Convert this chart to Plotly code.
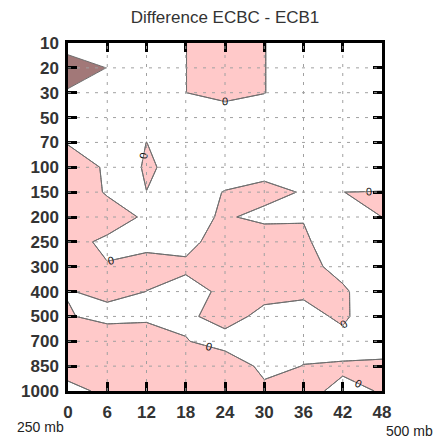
import plotly.graph_objects as go

# Forecast hour (x) and pressure level (y, in mb)
hours = [0, 6, 12, 18, 24, 30, 36, 42, 48]
levels = ["10", "20", "30", "50", "70", "100", "150", "200", "250",
          "300", "400", "500", "700", "850", "1000"]

# Difference ECBC - ECB1, one row per pressure level, one column per hour
diff = [
    [-0.1, -0.5, -0.5, -0.01, 0.5, 0.02, -0.5, -0.5, -0.5],
    [-2.0, -0.97, -0.5, -0.01, 0.5, 0.02, -0.5, -0.5, -0.5],
    [-0.8, -0.5, -0.5, -0.01, 0.5, 0.02, -0.5, -0.5, -0.5],
    [-0.5, -0.5, -0.5, -0.5, -0.9, -0.5, -0.5, -0.5, -0.5],
    [-0.1, -0.5, 0.005, -0.5, -0.5, -0.5, -0.5, -0.5, -0.5],
    [0.9, -0.212, 0.0325, -0.089, -0.5, -0.5, -0.5, -0.5, -0.5],
    [0.734, -0.102, -0.002, -0.44, 0.04, 0.393, -0.088, -0.001, 0.02],
    [0.6, 0.5, -0.152, -0.376, 0.137, -0.32, -0.067, -0.5, 0.002],
    [0.324, -0.194, -0.2, -0.186, 0.3, 0.82, 0.2, -0.8, -0.5],
    [2.0, 0.055, 0.265, 0.124, 0.6, 0.8, 0.4, -0.4, -0.5],
    [-0.1, 0.45, -0.01, -0.2635, 0.142, 0.242, 0.137, 0.188, -0.9],
    [0.15, -0.6, -0.2, -0.15, 0.3, -0.215, -0.279, 0.15, -0.68],
    [1.0, 1.4, 0.633, 0.037, -0.3, -0.4, -0.163, -0.255, -0.514],
    [0.45, 1.2, 1.0, 0.8, 0.47, -0.171, 0.0123, 0.064, 0.2],
    [-0.3, 0.214, 0.8, 0.8, 0.6, 0.146, 0.11, -0.096, 0.024],
]

level_idx = list(range(len(levels)))

DARK = "#a27878"
PINK = "#ffc9c9"
WHITE = "#ffffff"
LINE = "#6e6e6e"

fig = go.Figure()

# shaded bands: below -1, -1..0, above 0
fig.add_trace(go.Contour(
    x=hours, y=level_idx, z=diff,
    contours=dict(start=-1, end=0, size=1, coloring="fill", showlabels=False),
    colorscale=[[0, DARK], [0.3, DARK], [0.3, WHITE], [0.8, WHITE],
                [0.8, PINK], [1, PINK]],
    line=dict(color=LINE, width=1, smoothing=0),
    showscale=False, hoverinfo="skip",
))

# zero line with labels
fig.add_trace(go.Contour(
    x=hours, y=level_idx, z=diff,
    contours=dict(start=0, end=0, size=1, coloring="none", showlabels=True,
                  labelfont=dict(family="Liberation Sans", size=11, color="#111")),
    line=dict(color=LINE, width=1, smoothing=0),
    showscale=False, hoverinfo="skip",
))

# dotted grid drawn above the shading
grid = dict(color="#a0a0a0", width=1, dash="3px,6px")
shapes = []
for h in hours[1:-1]:
    shapes.append(dict(type="line", xref="x", yref="paper", x0=h, x1=h, y0=0, y1=1,
                       line=grid, layer="above"))
for k in level_idx[1:-1]:
    shapes.append(dict(type="line", xref="paper", yref="y", x0=0, x1=1, y0=k, y1=k,
                       line=grid, layer="above"))

tickfont = dict(family="Liberation Sans, Arial, sans-serif", size=17, color="#333",
                weight="bold")
axis_common = dict(showline=True, linecolor="black", linewidth=2.5, mirror="allticks",
                   ticks="inside", ticklen=9, tickwidth=2.5, tickcolor="black",
                   showgrid=False, zeroline=False, tickfont=tickfont, layer="above traces")

fig.update_layout(
    width=439, height=438,
    margin=dict(l=68, r=57, t=43, b=47),
    paper_bgcolor="white", plot_bgcolor="white",
    showlegend=False,
    title=dict(text="Difference ECBC - ECB1", x=0.5, xref="paper",
               y=1 - 17 / 438, yref="container", yanchor="middle",
               font=dict(family="Liberation Sans Narrow, Arial Narrow, sans-serif",
                         size=17, color="#333")),
    xaxis=dict(range=[hours[0], hours[-1]], tickvals=hours, ticktext=[str(h) for h in hours],
               ticklabelstandoff=4, **axis_common),
    yaxis=dict(range=[level_idx[-1], level_idx[0]], tickvals=level_idx, ticktext=levels,
               ticklabelstandoff=3, **axis_common),
    shapes=shapes,
    annotations=[
        dict(text="250 mb", xref="paper", yref="paper", x=-0.089, y=-0.103,
             showarrow=False, xanchor="center", yanchor="middle",
             font=dict(family="Liberation Sans Narrow, Arial Narrow, sans-serif",
                       size=14, color="#222")),
        dict(text="500 mb", xref="paper", yref="paper", x=1.089, y=-0.115,
             showarrow=False, xanchor="center", yanchor="middle",
             font=dict(family="Liberation Sans Narrow, Arial Narrow, sans-serif",
                       size=14, color="#222")),
    ],
)

fig.write_html("out.html")
